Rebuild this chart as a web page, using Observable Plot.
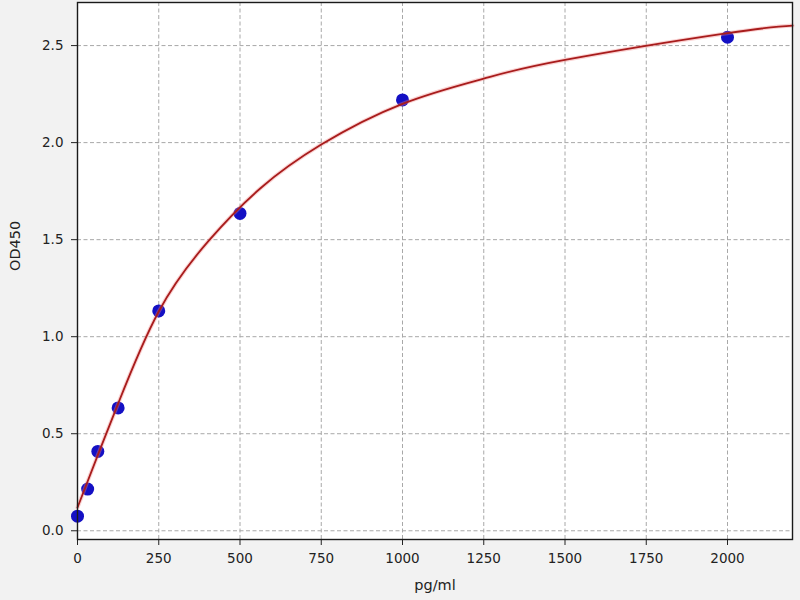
<!DOCTYPE html>
<html>
<head>
<meta charset="utf-8">
<script src="https://cdn.jsdelivr.net/npm/d3@7"></script>
<script src="https://cdn.jsdelivr.net/npm/@observablehq/plot@0.6"></script>
<style>
  body { margin: 0; background: #f2f2f2; }
</style>
</head>
<body>
<div id="chart"></div>
<script>
// standard points (concentration, OD)
const concentrations = [0, 31.25, 62.5, 125, 250, 500, 1000, 2000]
const od450 = [0.075, 0.215, 0.409, 0.633, 1.133, 1.635, 2.22, 2.543]

// fitted curve
const fitX = [0, 62.5, 125, 250, 404, 563, 750, 1000, 1250, 1500, 2000, 2200]
const fitY = [0.12, 0.39, 0.655, 1.13, 1.495, 1.765, 1.99, 2.2, 2.33, 2.426, 2.564, 2.603]

const xTicks = [0, 250, 500, 750, 1000, 1250, 1500, 1750, 2000]
const yTicks = [0, 0.5, 1.0, 1.5, 2.0, 2.5]
const xLabel = 'pg/ml'
const yLabel = 'OD450'

const puntos = concentrations.map((c, i) => ({ x: c, y: od450[i] }))
const curva = fitX.map((c, i) => ({ x: c, y: fitY[i] }))

const grid = { stroke: '#a8a8a8', strokeWidth: 1, strokeDasharray: '4,2.5' }

let chart = Plot.plot({
  width: 800,
  height: 600,
  marginLeft: 77,
  marginTop: 2,
  marginRight: 8,
  marginBottom: 61,
  style: {
    background: '#f2f2f2',
    fontFamily: 'DejaVu Sans',
    fontSize: '13.5px',
    color: '#222',
  },
  x: {
    domain: [0, 2200],
    ticks: xTicks,
    tickFormat: d => String(d),
    tickSize: 6,
    tickPadding: 8,
    label: null,
  },
  y: {
    domain: [-0.045, 2.722],
    ticks: yTicks,
    tickFormat: d3.format('.1f'),
    tickSize: 6,
    tickPadding: 8,
    label: null,
  },
  marks: [
    Plot.frame({ fill: 'white', stroke: 'none' }),
    Plot.ruleX(xTicks, grid),
    Plot.ruleY(yTicks, grid),
    Plot.dot(puntos, { x: 'x', y: 'y', r: 6.5, fill: '#1410c4', stroke: 'none' }),
    // halo + core of the red fit line
    Plot.line(curva, { x: 'x', y: 'y', curve: 'natural', stroke: '#f08080', strokeWidth: 4, strokeOpacity: 0.35 }),
    Plot.line(curva, { x: 'x', y: 'y', curve: 'natural', stroke: '#a81c1c', strokeWidth: 1.8 }),
    Plot.frame({ stroke: '#1a1a1a', strokeWidth: 1.4 }),
    Plot.text([xLabel], { frameAnchor: 'bottom', dy: 50, fontSize: 14.5, fill: '#222' }),
    Plot.text([yLabel], { frameAnchor: 'left', dx: -62, rotate: -90, fontSize: 14.5, fill: '#222' }),
  ],
})

d3.select('#chart').append(() => chart)
</script>
</body>
</html>
